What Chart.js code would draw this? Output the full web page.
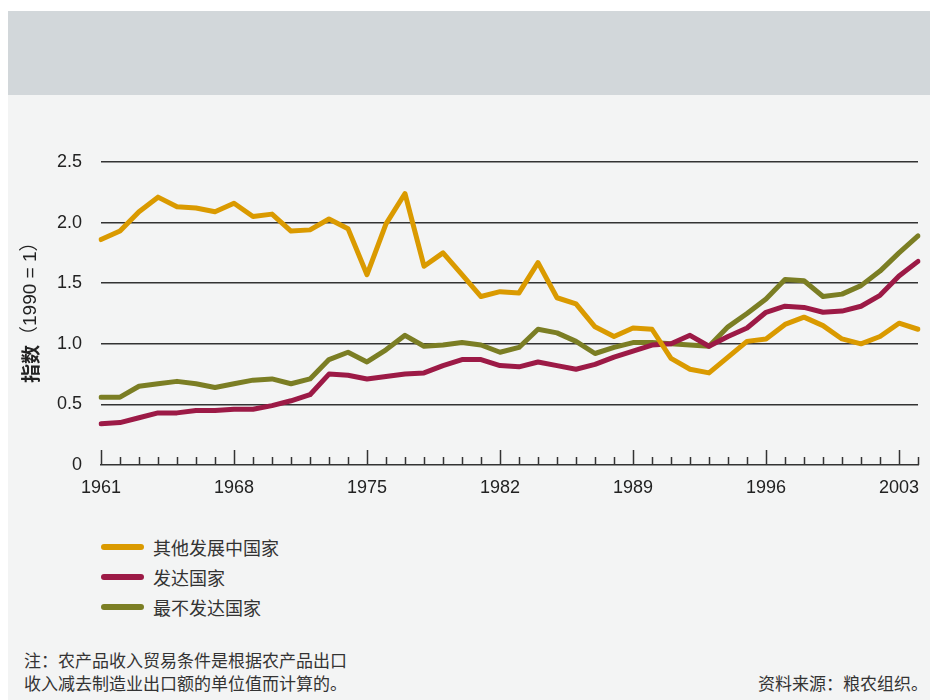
<!DOCTYPE html>
<html>
<head>
<meta charset="utf-8">
<script src="https://cdn.jsdelivr.net/npm/chart.js@4"></script>
<style>
  body { margin: 0; background: #fff; width: 930px; height: 700px; position: relative; overflow: hidden;
         font-family: "Noto Sans CJK SC", "Liberation Sans", sans-serif; color: #333; }
  #header { position: absolute; left: 8px; top: 11px; width: 922px; height: 84px; background: #d2d7da; }
  #panel { position: absolute; left: 8px; top: 95px; width: 922px; height: 605px; background: #f3f4f4; }
  #chart { position: absolute; left: 0; top: 0; }
  #legend { position: absolute; left: 101px; top: 532px; }
  .item { height: 30px; display: flex; align-items: center; font-size: 18px; }
  .swatch { width: 43px; height: 6px; border-radius: 3px; margin-right: 9px; }
  #note { position: absolute; left: 24px; top: 648px; font-size: 17px; line-height: 23px; }
  #source { position: absolute; right: 2px; top: 671px; font-size: 17px; line-height: 23px; }
</style>
</head>
<body>
<div id="header"></div>
<div id="panel"></div>
<canvas id="chart" width="930" height="520"></canvas>
<div id="legend"></div>
<div id="note">注：农产品收入贸易条件是根据农产品出口<br>收入减去制造业出口额的单位值而计算的。</div>
<div id="source">资料来源：粮农组织。</div>
<script>
// 年份
const years = ['1961','1962','1963','1964','1965','1966','1967','1968','1969','1970',
  '1971','1972','1973','1974','1975','1976','1977','1978','1979','1980',
  '1981','1982','1983','1984','1985','1986','1987','1988','1989','1990',
  '1991','1992','1993','1994','1995','1996','1997','1998','1999','2000',
  '2001','2002','2003','2004'];

// 其他发展中国家
const otherDeveloping = [1.86,1.93,2.09,2.21,2.13,2.12,2.09,2.16,2.05,2.07,
  1.93,1.94,2.03,1.95,1.57,1.99,2.24,1.64,1.75,1.57,
  1.39,1.43,1.42,1.67,1.38,1.33,1.14,1.06,1.13,1.12,
  0.88,0.79,0.76,0.89,1.02,1.04,1.16,1.22,1.15,1.04,
  1.00,1.06,1.17,1.12];

// 发达国家
const developed = [0.34,0.35,0.39,0.43,0.43,0.45,0.45,0.46,0.46,0.49,
  0.53,0.58,0.75,0.74,0.71,0.73,0.75,0.76,0.82,0.87,
  0.87,0.82,0.81,0.85,0.82,0.79,0.83,0.89,0.94,0.99,
  1.00,1.07,0.98,1.06,1.13,1.26,1.31,1.30,1.26,1.27,
  1.31,1.40,1.56,1.68];

// 最不发达国家
const leastDeveloped = [0.56,0.56,0.65,0.67,0.69,0.67,0.64,0.67,0.70,0.71,
  0.67,0.71,0.87,0.93,0.85,0.95,1.07,0.98,0.99,1.01,
  0.99,0.93,0.97,1.12,1.09,1.02,0.92,0.97,1.01,1.01,
  1.00,0.99,0.98,1.14,1.25,1.37,1.53,1.52,1.39,1.41,
  1.48,1.60,1.75,1.89];

const seriesNames = ['其他发展中国家', '发达国家', '最不发达国家'];
const seriesColors = ['#da9a00', '#9c1a46', '#7b7e24'];
const seriesData = [otherDeveloping, developed, leastDeveloped];

const numFont = '"Liberation Sans", "Noto Sans CJK SC", sans-serif';

// x轴刻度向上画，每7年一个长刻度
const upTicks = {
  id: 'upTicks',
  beforeDatasetsDraw(chart) {
    const ctx = chart.ctx;
    const xs = chart.scales.x;
    const base = chart.chartArea.bottom;
    ctx.save();
    ctx.strokeStyle = '#333';
    ctx.lineWidth = 1.5;
    years.forEach((y, i) => {
      const px = Math.round(xs.getPixelForValue(i)) + 0.5;
      const len = i % 7 === 0 ? 15 : 8;
      ctx.beginPath();
      ctx.moveTo(px, base);
      ctx.lineTo(px, base - len);
      ctx.stroke();
    });
    ctx.restore();
  }
};

// y轴标题：指数 粗体 + (1990 = 1)
const yTitle = {
  id: 'yTitle',
  afterDraw(chart) {
    const ctx = chart.ctx;
    const a = '指数';
    const b = '（1990 = 1）';
    ctx.save();
    ctx.fillStyle = '#222';
    ctx.textBaseline = 'middle';
    const fa = 'bold 19px "Noto Sans CJK SC", sans-serif';
    const fb = '19px "Liberation Sans", "Noto Sans CJK SC", sans-serif';
    ctx.font = fa;
    const wa = ctx.measureText(a).width;
    ctx.translate(31, chart.chartArea.bottom - 82);
    ctx.rotate(-Math.PI / 2);
    ctx.fillText(a, 0, 0);
    ctx.font = fb;
    ctx.fillText(b, wa, 0);
    ctx.restore();
  }
};

new Chart(document.getElementById('chart'), {
  type: 'line',
  data: {
    labels: years,
    datasets: seriesData.map((d, i) => ({
      label: seriesNames[i],
      data: d,
      borderColor: seriesColors[i],
      backgroundColor: seriesColors[i],
      borderWidth: 5,
      pointRadius: 0,
      tension: 0,
      borderJoinStyle: 'round',
      borderCapStyle: 'round'
    }))
  },
  options: {
    responsive: false,
    animation: false,
    layout: { padding: { top: 162, right: 8, left: 0, bottom: 0 } },
    plugins: { legend: { display: false }, tooltip: { enabled: false } },
    scales: {
      x: {
        type: 'category',
        offset: false,
        grid: { display: false, drawTicks: false },
        border: { display: true, color: '#333', width: 1.5 },
        ticks: {
          autoSkip: false, maxRotation: 0, padding: 12,
          color: '#222', font: { family: numFont, size: 18 },
          callback(v, i) { return i % 7 === 0 ? years[i] : ''; }
        },
        afterFit(s) { s.height = 55; }
      },
      y: {
        min: 0, max: 2.5,
        grid: {
          drawTicks: false, color: (c) => c.tick.value === 0 ? 'rgba(0,0,0,0)' : '#333',
          lineWidth: 1.5
        },
        border: { display: false },
        ticks: {
          stepSize: 0.5, padding: 19, color: '#222',
          font: { family: numFont, size: 18 },
          callback(v) { return v === 0 ? '0' : v.toFixed(1); }
        },
        afterFit(s) { s.width = 101; }
      }
    }
  },
  plugins: [upTicks, yTitle]
});

// 图例
const legend = document.getElementById('legend');
seriesNames.forEach((n, i) => {
  const row = document.createElement('div');
  row.className = 'item';
  row.innerHTML = '<span class="swatch" style="background:' + seriesColors[i] + '"></span><span>' + n + '</span>';
  legend.appendChild(row);
});
</script>
</body>
</html>
